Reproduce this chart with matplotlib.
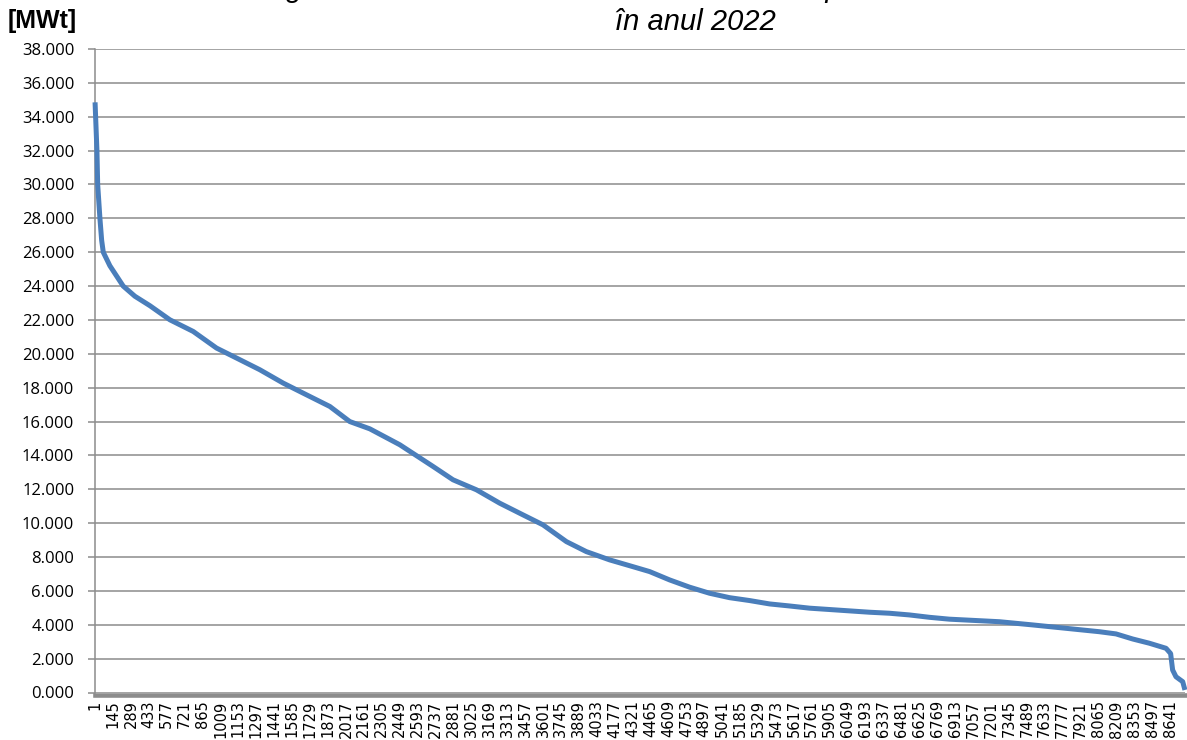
import matplotlib
matplotlib.use("Agg")
import matplotlib.pyplot as plt
from matplotlib.ticker import FixedLocator, FuncFormatter

# Load duration curve: hour rank (1..8760) and thermal load [MWt], read at selected ranks
hours = [1, 16, 22, 40, 54, 67, 120, 227, 321, 442, 602, 790, 977, 1138, 1325,
         1513, 1700, 1888, 2048, 2209, 2450, 2717, 2878, 3066, 3253, 3440, 3601,
         3789, 3949, 4137, 4324, 4458, 4618, 4779, 4940, 5100, 5261, 5422, 5582,
         5743, 5904, 6064, 6225, 6386, 6546, 6707, 6867, 7001, 7269, 7537, 7805,
         8072, 8206, 8340, 8474, 8608, 8645, 8661, 8688, 8742, 8760]
load_mwt = [34850, 32000, 30000, 28000, 26700, 26000, 25200, 24000, 23400, 22840,
            22010, 21320, 20340, 19750, 19060, 18270, 17580, 16890, 16000, 15570,
            14630, 13350, 12560, 11970, 11180, 10490, 9900, 8910, 8320, 7830, 7430,
            7140, 6650, 6220, 5860, 5600, 5430, 5230, 5110, 4980, 4900, 4820, 4740,
            4680, 4580, 4440, 4330, 4280, 4180, 3990, 3790, 3590, 3460, 3160, 2910,
            2610, 2300, 1330, 930, 640, 150]

n_hours = 8760
x_tick_step = 144
y_ticks = list(range(0, 38001, 2000))

unit_label = "[MWt]"
title_line1 = "Figura 3.2. Curba clasată a sarcinii termice pentru sistemul SACET"
title_line2 = "în anul 2022"

GRID = "#8c8c8c"
LINE = "#4a7ebb"

W, H = 1187, 740
fig = plt.figure(figsize=(W / 100, H / 100), dpi=100)
ax = fig.add_axes([95 / W, (H - 692.5) / H, (1185 - 95) / W, (692.5 - 49) / H])

ax.plot(hours, load_mwt, color=LINE, lw=3.6, solid_joinstyle="round",
        solid_capstyle="butt", zorder=3, clip_on=False)

ax.set_xlim(0.5, n_hours + 0.5)
ax.set_ylim(0, 38000)

ax.yaxis.set_major_locator(FixedLocator(y_ticks))
ax.yaxis.set_major_formatter(FuncFormatter(lambda v, p: f"{v / 1000:.3f}"))
ax.grid(axis="y", color=GRID, lw=1.1, zorder=1)
ax.set_axisbelow(True)

xt = list(range(1, n_hours + 1, x_tick_step))
ax.xaxis.set_major_locator(FixedLocator(xt))
ax.xaxis.set_major_formatter(FuncFormatter(lambda v, p: f"{int(round(v))}"))
ax.tick_params(axis="x", length=0, pad=4, labelrotation=90, labelsize=10.5)
ax.tick_params(axis="y", length=5, width=1.1, color=GRID, direction="out", pad=10,
               labelsize=12)
for lab in ax.get_xticklabels():
    lab.set_family("Liberation Sans")
for lab in ax.get_yticklabels():
    lab.set_family("Open Sans")

for s in ("top", "right"):
    ax.spines[s].set_visible(False)
ax.spines["left"].set_color(GRID)
ax.spines["left"].set_linewidth(1.1)
ax.spines["bottom"].set_color(GRID)
ax.spines["bottom"].set_linewidth(3.3)
ax.spines["bottom"].set_position(("outward", 1.6))

fig.text(8 / W, 1 - 21 / H, unit_label, fontsize=18, fontweight="bold",
         family="Liberation Sans", ha="left", va="center")
fig.text(695 / W, 1 - 22 / H, title_line2, fontsize=21, style="italic",
         family="Liberation Sans", ha="center", va="center")
fig.text(695 / W, 1 + 11 / H, title_line1, fontsize=21, style="italic",
         family="Liberation Sans", ha="center", va="center")

fig.savefig("out.png", dpi=100)
